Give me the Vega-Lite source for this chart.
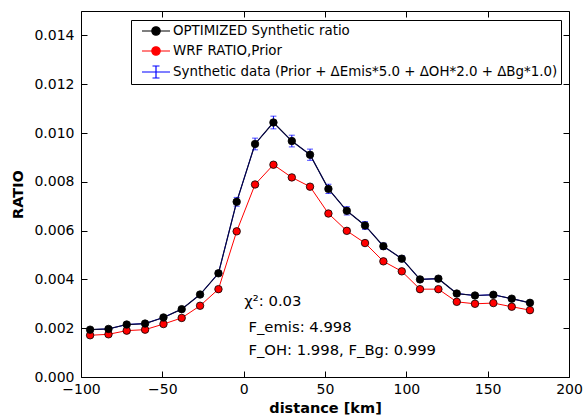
{
  "$schema": "https://vega.github.io/schema/vega-lite/v6.json",
  "width": 488,
  "height": 366,
  "padding": {"left": 10, "top": 10, "right": 10, "bottom": 5},
  "background": "white",
  "config": {
    "font": "DejaVu Sans",
    "view": {"stroke": "black", "strokeWidth": 1},
    "axis": {
      "grid": false,
      "domain": false,
      "tickColor": "black",
      "tickSize": -6,
      "labelFlush": false,
      "labelOverlap": false,
      "labelFont": "DejaVu Sans",
      "labelFontSize": 14,
      "labelColor": "black",
      "titleFont": "DejaVu Sans",
      "titleFontSize": 14.5,
      "titleFontWeight": "bold",
      "titleColor": "black"
    },
    "legend": {
      "labelFont": "DejaVu Sans",
      "labelFontSize": 13.4,
      "labelColor": "black",
      "labelLimit": 0
    }
  },
  "datasets": {
    "opt": [
      {"d": -94.4, "ratio": 0.00194}, {"d": -83.1, "ratio": 0.00197}, {"d": -71.9, "ratio": 0.00215},
      {"d": -60.6, "ratio": 0.00219}, {"d": -49.3, "ratio": 0.00244}, {"d": -38.1, "ratio": 0.00278},
      {"d": -26.8, "ratio": 0.00338}, {"d": -15.5, "ratio": 0.00425}, {"d": -4.3, "ratio": 0.00718},
      {"d": 7.0, "ratio": 0.00955}, {"d": 18.3, "ratio": 0.01043}, {"d": 29.6, "ratio": 0.00967},
      {"d": 40.8, "ratio": 0.00911}, {"d": 52.1, "ratio": 0.00771}, {"d": 63.4, "ratio": 0.00681},
      {"d": 74.6, "ratio": 0.00621}, {"d": 85.9, "ratio": 0.00536}, {"d": 97.2, "ratio": 0.00485},
      {"d": 108.4, "ratio": 0.00400}, {"d": 119.7, "ratio": 0.00403}, {"d": 131.0, "ratio": 0.00342},
      {"d": 142.2, "ratio": 0.00334}, {"d": 153.5, "ratio": 0.00337}, {"d": 164.8, "ratio": 0.00321},
      {"d": 176.0, "ratio": 0.00304}
    ],
    "prior": [
      {"d": -94.4, "ratio": 0.00171}, {"d": -83.1, "ratio": 0.00175}, {"d": -71.9, "ratio": 0.00190},
      {"d": -60.6, "ratio": 0.00194}, {"d": -49.3, "ratio": 0.00217}, {"d": -38.1, "ratio": 0.00242},
      {"d": -26.8, "ratio": 0.00292}, {"d": -15.5, "ratio": 0.00360}, {"d": -4.3, "ratio": 0.00597},
      {"d": 7.0, "ratio": 0.00789}, {"d": 18.3, "ratio": 0.00870}, {"d": 29.6, "ratio": 0.00818},
      {"d": 40.8, "ratio": 0.00780}, {"d": 52.1, "ratio": 0.00670}, {"d": 63.4, "ratio": 0.00599},
      {"d": 74.6, "ratio": 0.00549}, {"d": 85.9, "ratio": 0.00474}, {"d": 97.2, "ratio": 0.00433},
      {"d": 108.4, "ratio": 0.00360}, {"d": 119.7, "ratio": 0.00360}, {"d": 131.0, "ratio": 0.00308},
      {"d": 142.2, "ratio": 0.00300}, {"d": 153.5, "ratio": 0.00303}, {"d": 164.8, "ratio": 0.00288},
      {"d": 176.0, "ratio": 0.00274}
    ],
    "syn": [
      {"d": -94.4, "ratio": 0.00194, "err": 0.00005}, {"d": -83.1, "ratio": 0.00197, "err": 0.00005},
      {"d": -71.9, "ratio": 0.00215, "err": 0.00005}, {"d": -60.6, "ratio": 0.00219, "err": 0.00005},
      {"d": -49.3, "ratio": 0.00244, "err": 0.00006}, {"d": -38.1, "ratio": 0.00278, "err": 0.00007},
      {"d": -26.8, "ratio": 0.00338, "err": 0.00008}, {"d": -15.5, "ratio": 0.00425, "err": 0.0001},
      {"d": -4.3, "ratio": 0.00718, "err": 0.00018}, {"d": 7.0, "ratio": 0.00955, "err": 0.00024},
      {"d": 18.3, "ratio": 0.01043, "err": 0.00026}, {"d": 29.6, "ratio": 0.00967, "err": 0.00024},
      {"d": 40.8, "ratio": 0.00911, "err": 0.00023}, {"d": 52.1, "ratio": 0.00771, "err": 0.00019},
      {"d": 63.4, "ratio": 0.00681, "err": 0.00017}, {"d": 74.6, "ratio": 0.00621, "err": 0.00016},
      {"d": 85.9, "ratio": 0.00536, "err": 0.00013}, {"d": 97.2, "ratio": 0.00485, "err": 0.00012},
      {"d": 108.4, "ratio": 0.00400, "err": 0.0001}, {"d": 119.7, "ratio": 0.00403, "err": 0.0001},
      {"d": 131.0, "ratio": 0.00342, "err": 0.00009}, {"d": 142.2, "ratio": 0.00334, "err": 0.00008},
      {"d": 153.5, "ratio": 0.00337, "err": 0.00008}, {"d": 164.8, "ratio": 0.00321, "err": 0.00008},
      {"d": 176.0, "ratio": 0.00304, "err": 0.00008}
    ],
    "series": [
      {"s": "OPTIMIZED Synthetic ratio"},
      {"s": "WRF RATIO,Prior"},
      {"s": "Synthetic data (Prior + ΔEmis*5.0 + ΔOH*2.0 + ΔBg*1.0)"}
    ],
    "notes": [
      {"t": "χ²: 0.03", "d": 0.4, "r": 0.00308},
      {"t": "F_emis: 4.998", "d": 2.9, "r": 0.00200},
      {"t": "F_OH: 1.998, F_Bg: 0.999", "d": 2.9, "r": 0.00107}
    ]
  },
  "resolve": {"axis": {"x": "independent", "y": "independent"}},
  "layer": [
    {
      "data": {"name": "prior"},
      "mark": {"type": "line", "color": "red", "strokeWidth": 1},
      "encoding": {
        "x": {"field": "d", "type": "quantitative", "scale": {"domain": [-100, 200], "nice": false, "zero": false},
              "axis": {"orient": "bottom", "values": [-100, -50, 0, 50, 100, 150, 200], "title": "distance [km]", "labelPadding": 11, "titlePadding": 5}},
        "y": {"field": "ratio", "type": "quantitative", "scale": {"domain": [0, 0.015], "nice": false},
              "axis": {"orient": "left", "values": [0, 0.002, 0.004, 0.006, 0.008, 0.01, 0.012, 0.014], "format": ".3f", "title": "RATIO", "labelPadding": 13, "titlePadding": 8}}
      }
    },
    {
      "data": {"name": "opt"},
      "mark": {"type": "line", "color": "black", "strokeWidth": 1, "opacity": 0},
      "encoding": {
        "x": {"field": "d", "type": "quantitative",
              "axis": {"orient": "top", "values": [-100, -50, 0, 50, 100, 150, 200], "labels": false, "title": null}},
        "y": {"field": "ratio", "type": "quantitative",
              "axis": {"orient": "right", "values": [0, 0.002, 0.004, 0.006, 0.008, 0.01, 0.012, 0.014], "labels": false, "title": null}}
      }
    },
    {
      "data": {"name": "prior"},
      "mark": {"type": "point", "filled": true, "fill": "red", "stroke": "black", "strokeWidth": 0.8, "size": 56, "opacity": 1},
      "encoding": {
        "x": {"field": "d", "type": "quantitative", "axis": null},
        "y": {"field": "ratio", "type": "quantitative", "axis": null}
      }
    },
    {
      "data": {"name": "syn"},
      "mark": {"type": "line", "color": "blue", "strokeWidth": 1},
      "encoding": {
        "x": {"field": "d", "type": "quantitative", "axis": null},
        "y": {"field": "ratio", "type": "quantitative", "axis": null}
      }
    },
    {
      "data": {"name": "syn"},
      "mark": {"type": "errorbar", "color": "blue", "ticks": {"size": 6, "color": "blue"}},
      "encoding": {
        "x": {"field": "d", "type": "quantitative", "axis": null},
        "y": {"field": "ratio", "type": "quantitative", "axis": null},
        "yError": {"field": "err"}
      }
    },
    {
      "data": {"name": "opt"},
      "mark": {"type": "line", "color": "#0a0a30", "strokeWidth": 1.2},
      "encoding": {
        "x": {"field": "d", "type": "quantitative", "axis": null},
        "y": {"field": "ratio", "type": "quantitative", "axis": null}
      }
    },
    {
      "data": {"name": "opt"},
      "mark": {"type": "point", "filled": true, "fill": "black", "stroke": "black", "strokeWidth": 0.8, "size": 56, "opacity": 1},
      "encoding": {
        "x": {"field": "d", "type": "quantitative", "axis": null},
        "y": {"field": "ratio", "type": "quantitative", "axis": null}
      }
    },
    {
      "data": {"name": "notes"},
      "mark": {"type": "text", "align": "left", "baseline": "middle", "fontSize": 14.8, "color": "black", "font": "DejaVu Sans"},
      "encoding": {
        "x": {"field": "d", "type": "quantitative", "axis": null},
        "y": {"field": "r", "type": "quantitative", "axis": null},
        "text": {"field": "t"}
      }
    },
    {
      "data": {"name": "series"},
      "transform": [{"filter": "false"}],
      "mark": {"type": "point", "filled": true, "opacity": 1},
      "encoding": {
        "fill": {"field": "s", "type": "nominal",
                 "scale": {"domain": ["OPTIMIZED Synthetic ratio", "WRF RATIO,Prior", "Synthetic data (Prior + ΔEmis*5.0 + ΔOH*2.0 + ΔBg*1.0)"], "range": ["black", "red", "blue"]},
                 "legend": {"title": null, "orient": "none", "legendX": 50, "legendY": 9, "symbolSize": 196, "symbolStrokeWidth": 1.2, "symbolOpacity": 1,
                            "fillColor": "white", "strokeColor": "black", "padding": 3, "labelOffset": 23, "rowPadding": 5, "labelLimit": 0}},
        "stroke": {"field": "s", "type": "nominal",
                   "scale": {"domain": ["OPTIMIZED Synthetic ratio", "WRF RATIO,Prior", "Synthetic data (Prior + ΔEmis*5.0 + ΔOH*2.0 + ΔBg*1.0)"], "range": ["black", "red", "blue"]}},
        "shape": {"field": "s", "type": "nominal",
                  "scale": {"domain": ["OPTIMIZED Synthetic ratio", "WRF RATIO,Prior", "Synthetic data (Prior + ΔEmis*5.0 + ΔOH*2.0 + ΔBg*1.0)"],
                            "range": ["M0,0L1.4,0M2.6,0L4,0M1.4,0A0.6,0.6,0,1,1,2.6,0A0.6,0.6,0,1,1,1.4,0Z",
                                      "M0,0L1.4,0M2.6,0L4,0M1.4,0A0.6,0.6,0,1,1,2.6,0A0.6,0.6,0,1,1,1.4,0Z",
                                      "M0,0L4,0M2,-0.86L2,0.86M1.5,-0.86L2.5,-0.86M1.5,0.86L2.5,0.86"]}}
      }
    }
  ]
}
